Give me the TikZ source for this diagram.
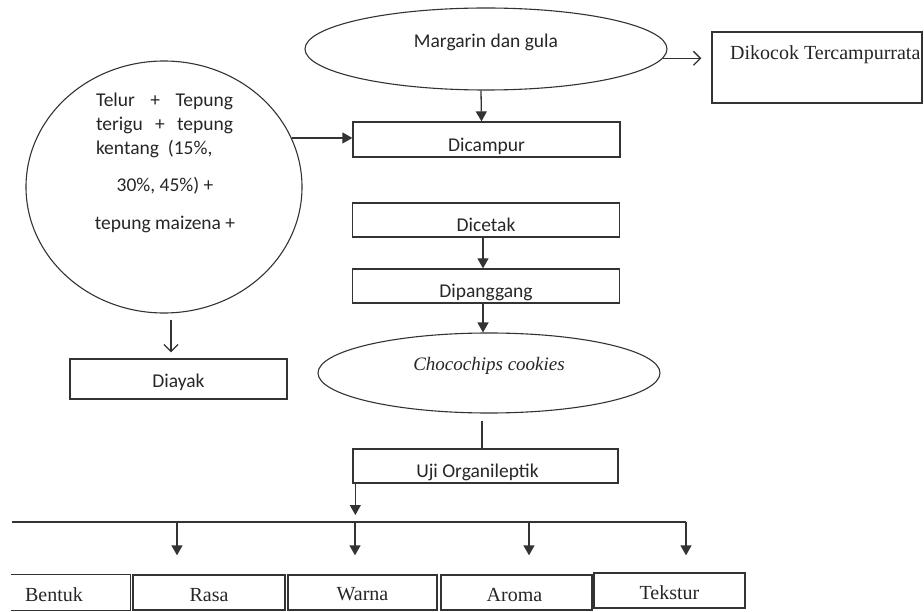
\documentclass[tikz,border=0pt]{standalone}
\usepackage{fontspec}
\setmainfont{Liberation Serif}
\newfontfamily\calf{Carlito}
\usetikzlibrary{shapes.geometric,arrows.meta}
\newcommand{\lift}[2]{\raisebox{#1}[0pt][0pt]{#2}}
\begin{document}
\begin{tikzpicture}[x=1pt,y=-1pt,
  ln/.style={line width=1.3pt, draw=black!80},
  farr/.style={ln, -{Triangle[length=10pt,width=11pt]}},
  oarr/.style={ln, -{Straight Barb[length=7pt,width=14pt,line width=1.3pt]}},
  sfont/.style={font=\calf\fontsize{19.5}{22}\selectfont, text=black!85},
  rfont/.style={font=\fontsize{20}{22}\selectfont, text=black!85},
  sbox/.style={ln, rectangle, inner sep=0pt, sfont},
  rbox/.style={ln, rectangle, inner sep=0pt, rfont},
  ctext/.style={inner sep=0pt, sfont}]
\useasboundingbox (0,0) rectangle (924,612);

% top
\node[ln, line width=1.1pt, ellipse, inner sep=0pt, minimum width=362pt, minimum height=82pt, sfont] (marg) at (486,49) {\lift{1.5pt}{Margarin dan gula}};
\node[ln, rectangle, minimum width=210pt, minimum height=71pt] (dik) at (817,67.5) {};
\node[inner sep=0pt, rfont, anchor=base west] (diktext) at (730,59.5) {Dikocok Tercampurrata};

% circle
\node[ln, line width=1.1pt, ellipse, minimum width=276pt, minimum height=252pt] (circ) at (164,187) {};
\node[ctext] (c1) at (164.5,101) {\makebox[137pt][s]{Telur\hfill+\hfill Tepung}};
\node[ctext] (c2) at (164.5,125) {\makebox[137pt][s]{terigu\hfill+\hfill tepung}};
\node[ctext] (c3) at (164.5,149) {\makebox[137pt][l]{kentang\ \ (15\%,}};
\node[ctext] (c4) at (165,186) {30\%, 45\%) +};
\node[ctext] (c5) at (165,224) {tepung maizena +};

% main column
\node[sbox, minimum width=267pt, minimum height=35pt] (dic) at (486.5,139.5) {\lift{-12pt}{Dicampur}};
\node[sbox, minimum width=267pt, minimum height=34pt] (cet) at (486,220) {\lift{-11.5pt}{Dicetak}};
\node[sbox, minimum width=267pt, minimum height=34pt] (pang) at (486,286) {\lift{-11.5pt}{Dipanggang}};
\node[ln, line width=1.1pt, ellipse, inner sep=0pt, minimum width=342pt, minimum height=80pt, font=\itshape\fontsize{19}{22}\selectfont, text=black!85] (choco) at (489,373) {\lift{2pt}{Chocochips cookies}};
\node[sbox, minimum width=265pt, minimum height=34pt] (uji) at (485.5,466) {\lift{-11.5pt}{\hspace*{-16pt}Uji Organileptik}};
\node[sbox, minimum width=217pt, minimum height=40pt] (diay) at (178.5,379) {\lift{-8.5pt}{Diayak}};

% bottom row
\node[rbox, draw=none, minimum width=118pt, minimum height=35pt] (bent) at (71,592.5) {\lift{-9pt}{\hspace*{-34pt}Bentuk}};
\draw[ln] (bent.north west) -- (bent.north east) -- (bent.south east) -- (bent.south west);
\node[rbox, minimum width=152pt, minimum height=35pt] (rasa) at (209,592.5) {\lift{-9pt}{Rasa}};
\node[rbox, minimum width=149pt, minimum height=35pt] (warna) at (362.5,592.5) {\lift{-8pt}{Warna}};
\node[rbox, minimum width=151pt, minimum height=35pt] (aroma) at (516.5,592.5) {\lift{-9pt}{\hspace*{-4pt}Aroma}};
\node[rbox, minimum width=151pt, minimum height=35pt] (tek) at (669.5,590.5) {\lift{-9pt}{Tekstur}};

% connectors
\draw[oarr, shorten >=10pt] (marg.-3) -- (marg.-3 -| dik.west);
\draw[farr] ([xshift=-5pt]marg.south) -- ([xshift=-5pt]dic.north);
\draw[farr] (circ.21) -- (circ.21 -| dic.west);
\draw[oarr] ([xshift=7pt,yshift=-6pt]circ.south) -- ([xshift=-7.5pt,yshift=6pt]diay.north);
\draw[farr] ([xshift=-3pt]cet.south) -- ([xshift=-3pt]pang.north);
\draw[farr] ([xshift=-3pt]pang.south) -- ([xshift=-6pt]choco.north);
\draw[ln] ([xshift=-7pt,yshift=-7pt]choco.south) -- ([xshift=-3.5pt]uji.north);

\coordinate (hL) at (12,522);
\coordinate (hR) at (686,522);
\coordinate (t1) at (177,522);
\coordinate (t2) at (355,522);
\coordinate (t3) at (529,522);
\draw[ln] (hL) -- (hR);
\draw[farr, shorten >=7pt] ([xshift=3pt]uji.south west) -- ([xshift=3pt]uji.south west |- hL);
\draw[farr, shorten >=19pt] (t1) -- (t1 |- rasa.north);
\draw[farr, shorten >=19pt] (t2) -- (t2 |- warna.north);
\draw[farr, shorten >=19pt] (t3) -- (t3 |- aroma.north);
\draw[farr, shorten >=17pt] (hR) -- (hR |- tek.north);
\end{tikzpicture}
\end{document}
